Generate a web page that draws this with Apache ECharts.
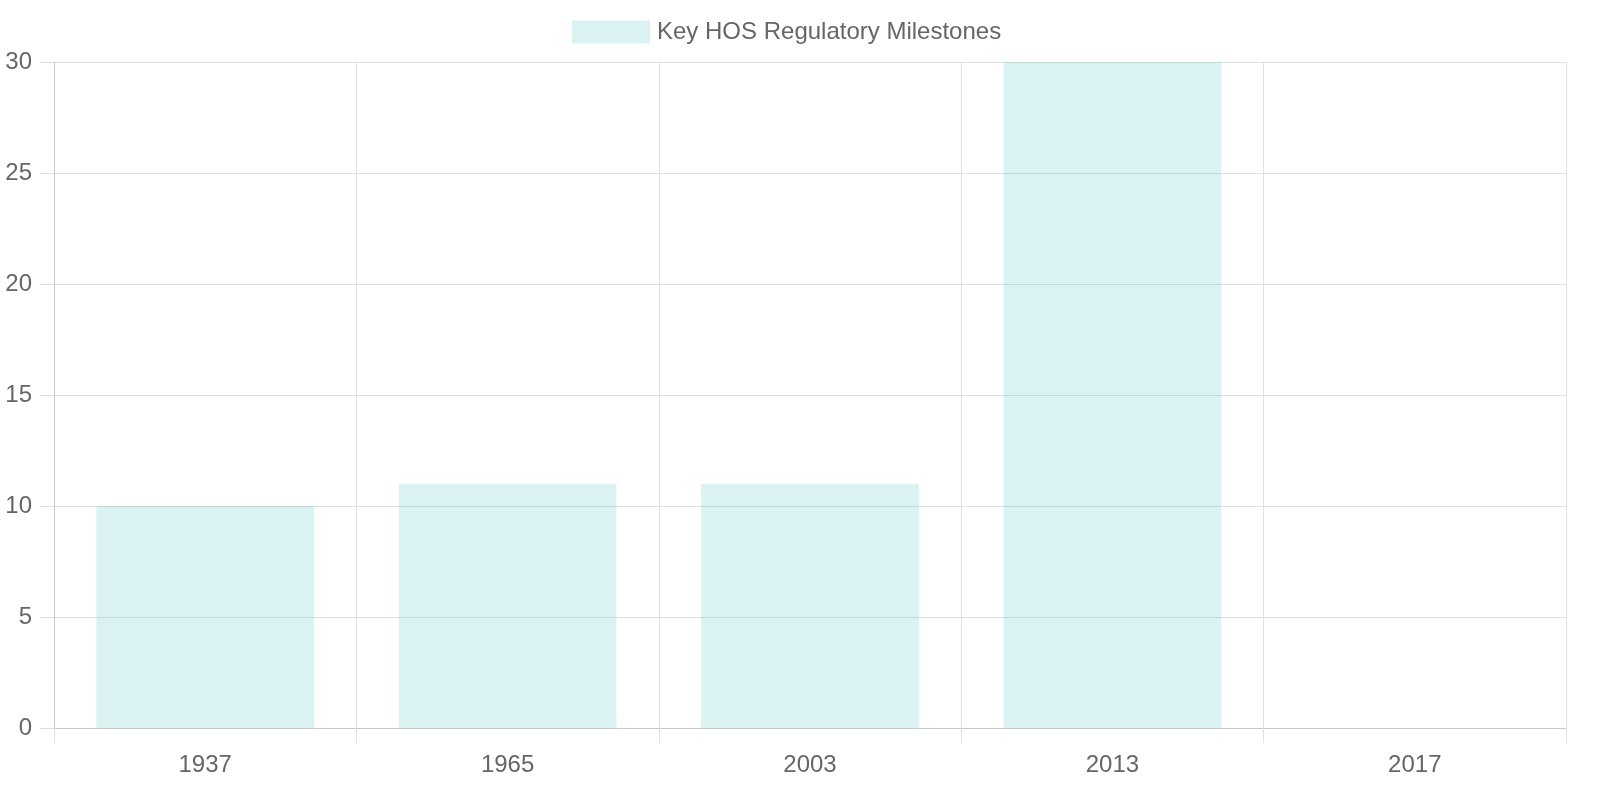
<!DOCTYPE html>
<html><head><meta charset="utf-8">
<script src="https://cdn.jsdelivr.net/npm/echarts@6/dist/echarts.min.js"></script>
<style>html,body{margin:0;padding:0;background:#fff}#c{width:1600px;height:800px}</style>
</head><body><div id="c"></div>
<script>
const categories = ['1937', '1965', '2003', '2013', '2017'];
const seriesName = 'Key HOS Regulatory Milestones';
const values = [10, 11, 11, 30, 0];
const yTicks = { min: 0, max: 30, interval: 5 };

const chart = echarts.init(document.getElementById('c'), null, { renderer: 'canvas' });
const font = '"Liberation Sans", Arial, Helvetica, sans-serif';
chart.setOption({
  animation: false,
  textStyle: { fontFamily: font },
  legend: {
    left: 567, top: 15,
    itemWidth: 78, itemHeight: 23, itemGap: 12,
    icon: 'rect',
    textStyle: { fontSize: 24, color: '#666', fontFamily: font, padding: [0, 0, 0, 2] },
    data: [seriesName]
  },
  grid: { left: 54, right: 34, top: 62, bottom: 72, containLabel: false },
  xAxis: {
    type: 'category',
    data: categories,
    boundaryGap: true,
    axisLine: { show: true, lineStyle: { color: '#c8c8c8', width: 1 } },
    axisTick: { show: true, length: 15, alignWithLabel: false, lineStyle: { color: '#e0e0e0' } },
    axisLabel: { fontSize: 24, color: '#666', margin: 25, fontFamily: font },
    splitLine: { show: true, lineStyle: { color: '#e0e0e0', width: 1 } }
  },
  yAxis: {
    type: 'value',
    min: yTicks.min, max: yTicks.max, interval: yTicks.interval,
    axisLine: { show: true, lineStyle: { color: '#c8c8c8', width: 1 } },
    axisTick: { show: true, length: 14, lineStyle: { color: '#e0e0e0' } },
    axisLabel: { fontSize: 24, color: '#666', margin: 22, fontFamily: font },
    splitLine: { show: true, lineStyle: { color: '#e0e0e0', width: 1 } }
  },
  series: [{
    name: seriesName,
    type: 'bar',
    data: values,
    barWidth: '72%',
    itemStyle: { color: 'rgba(75,192,192,0.2)' }
  }]
});
</script></body></html>
